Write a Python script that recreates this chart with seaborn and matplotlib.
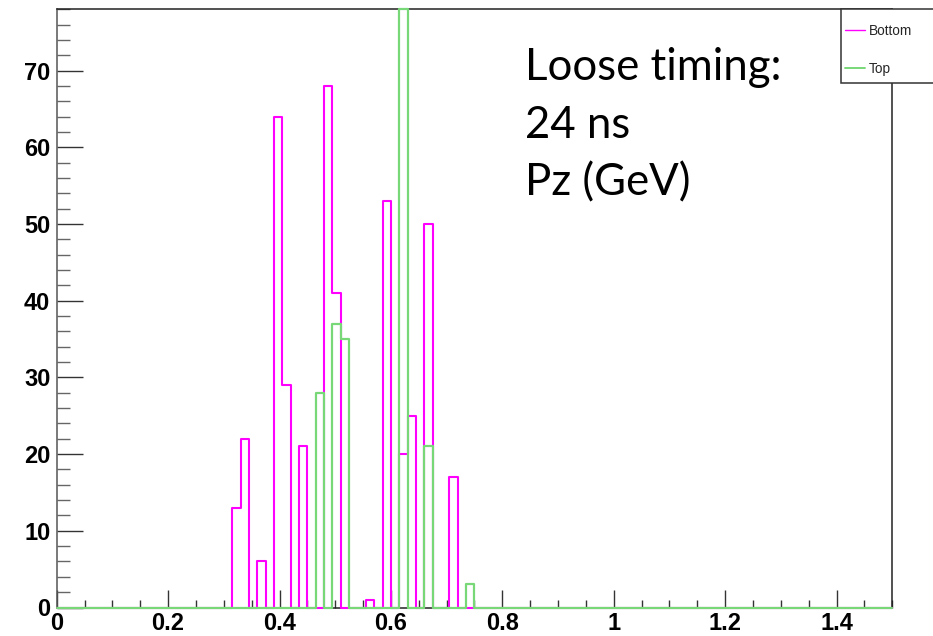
import numpy as np
import pandas as pd
import matplotlib
matplotlib.use("Agg")
import matplotlib.pyplot as plt
from matplotlib.patches import Rectangle
from matplotlib.lines import Line2D
from matplotlib.ticker import MultipleLocator, FixedLocator, FixedFormatter
import seaborn as sns

# ---- data (bin centres in GeV, 100 bins of 0.015 over 0..1.5) ----
bottom_pz = [0.3225, 0.3375, 0.3675, 0.3975, 0.4125, 0.4425, 0.4875, 0.5025,
             0.5625, 0.5925, 0.6225, 0.6375, 0.6675, 0.7125]
bottom_counts = [13, 22, 6, 64, 29, 21, 68, 41, 1, 53, 20, 25, 50, 17]
top_pz = [0.4725, 0.5025, 0.5175, 0.6225, 0.6675, 0.7425]
top_counts = [28, 37, 35, 78, 21, 3]
series_labels = ["Bottom", "Top"]
x_ticks = [0, 0.2, 0.4, 0.6, 0.8, 1.0, 1.2, 1.4]
x_ticklabels = ["0", "0.2", "0.4", "0.6", "0.8", "1", "1.2", "1.4"]
y_ticks = [0, 10, 20, 30, 40, 50, 60, 70]
note_lines = ["Loose timing:", "24 ns", "Pz (GeV)"]

n_bins, x_min, x_max = 100, 0.0, 1.5
edges = np.linspace(x_min, x_max, n_bins + 1).tolist()

df = pd.concat([
    pd.DataFrame({"pz": bottom_pz, "w": bottom_counts, "side": series_labels[0]}),
    pd.DataFrame({"pz": top_pz, "w": top_counts, "side": series_labels[1]}),
])

sns.set_style("white")
plt.rcParams["font.family"] = ["Liberation Sans", "DejaVu Sans"]

W, H = 933, 636
fig = plt.figure(figsize=(W / 100, H / 100), dpi=100)
ax = fig.add_axes([56.7 / W, 1 - 607.5 / H, (892.3 - 56.7) / W, (607.5 - 9) / H])

col_bottom = "#ff00ff"
col_top = "#78d878"

sns.histplot(data=df[df.side == series_labels[0]], x="pz", weights="w", bins=edges,
             element="step", fill=False, color=col_bottom, linewidth=1.5, ax=ax)
sns.histplot(data=df[df.side == series_labels[1]], x="pz", weights="w", bins=edges,
             element="step", fill=False, color=col_top, linewidth=1.6, ax=ax)
for ln in ax.lines:
    ln.set_clip_on(False)
    ln.set_zorder(3)

ax.set_xlim(x_min, x_max)
ax.set_ylim(0, 78.05)
ax.set_xlabel("")
ax.set_ylabel("")

for s in ax.spines.values():
    s.set_color("#222222")
    s.set_linewidth(1.1)
    s.set_zorder(2)
ax.spines["left"].set_color("#555555")

ax.xaxis.set_major_locator(FixedLocator(x_ticks))
ax.xaxis.set_major_formatter(FixedFormatter(x_ticklabels))
ax.xaxis.set_minor_locator(MultipleLocator(0.05))
ax.yaxis.set_major_locator(FixedLocator(y_ticks))
ax.yaxis.set_minor_locator(MultipleLocator(2))

ax.tick_params(axis="both", which="both", bottom=True, left=True, top=False,
               right=False, labelcolor="black")
ax.tick_params(axis="x", which="major", direction="in", length=12.7, width=1.0,
               color="#333333", labelsize=17, pad=3.3)
ax.tick_params(axis="x", which="minor", direction="in", length=6.0, width=1.0,
               color="#333333")
ax.tick_params(axis="y", which="major", direction="in", length=18.5, width=1.0,
               color="#333333", labelsize=17, pad=4.6)
ax.tick_params(axis="y", which="minor", direction="in", length=9.3, width=1.0,
               color="#666666")
for lab in ax.get_xticklabels() + ax.get_yticklabels():
    lab.set_fontweight("bold")
    lab.set_color("black")

# Legend box (ROOT style, running off the right edge)
box = Rectangle((841 / W, 1 - 83 / H), 0.2, (83 - 9) / H, transform=fig.transFigure,
                facecolor="white", edgecolor="#333333", linewidth=1.1, zorder=10)
fig.add_artist(box)
handles = [Line2D([], [], color=col_bottom, linewidth=1.0),
           Line2D([], [], color=col_top, linewidth=1.4)]
leg = fig.legend(handles, series_labels, loc="upper left",
                 bbox_to_anchor=(842 / W, 1 - 21 / H), frameon=False,
                 fontsize=9.8, handlelength=1.5, handletextpad=0.25,
                 labelspacing=1.8, borderpad=0.2, borderaxespad=0)
leg.set_zorder(11)

# Overlay note
for txt, base in zip(note_lines, [80, 138, 195]):
    fig.text(525 / W, 1 - base / H, txt, family=["Lato", "DejaVu Sans"],
             fontsize=31.5, va="baseline", ha="left", color="black")

fig.savefig("out.png", dpi=100)
